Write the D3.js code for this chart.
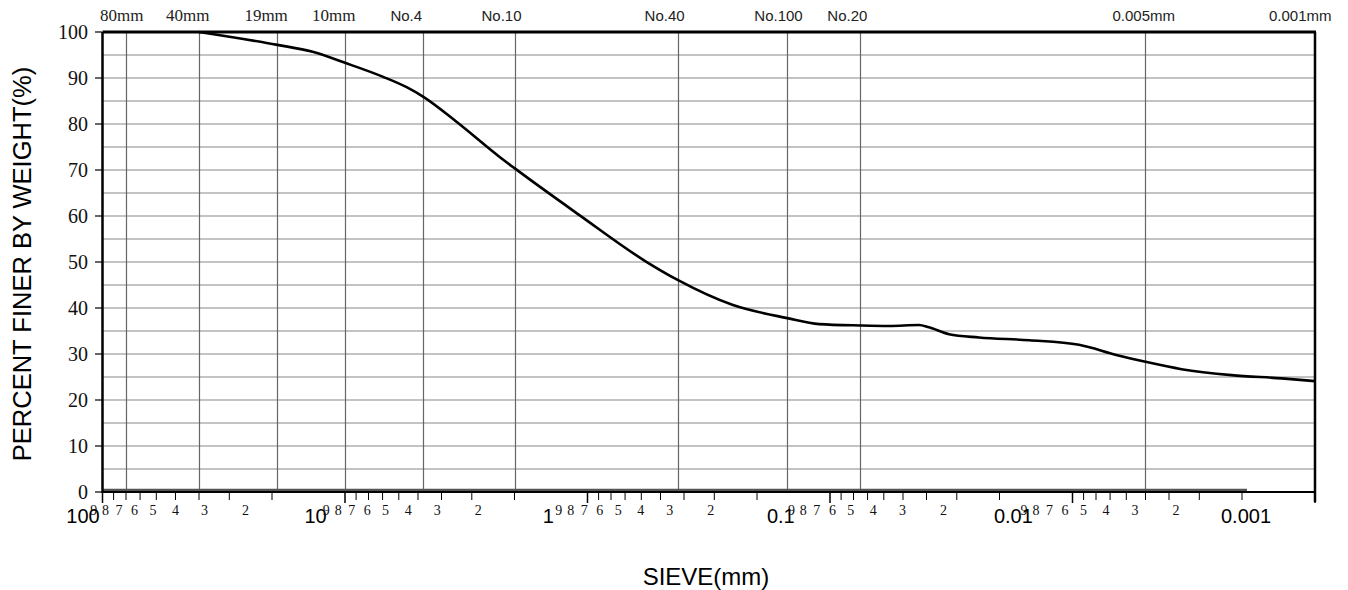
<!DOCTYPE html>
<html><head><meta charset="utf-8">
<script src="https://cdn.jsdelivr.net/npm/d3@7"></script>
<style>html,body{margin:0;padding:0;background:#fff;}svg{display:block;}</style>
</head><body>
<script>
// ---- data ----
const grainSizes = [40, 19, 13.6, 10, 7.0, 5.57, 4.75, 3.47, 2.31, 2.0, 1.08, 0.574, 0.425, 0.253, 0.15, 0.111, 0.075, 0.0571, 0.043, 0.0391, 0.0323, 0.0243, 0.0151, 0.0094, 0.0066, 0.005, 0.00355, 0.00221, 0.00137, 0.001];
const percentFiner = [100, 97.2, 95.7, 93.3, 90.3, 88.0, 85.9, 80.5, 72.9, 70.4, 60.2, 50.1, 46.1, 40.7, 37.8, 36.5, 36.2, 36.1, 36.3, 35.8, 34.3, 33.6, 33.0, 32.0, 29.8, 28.3, 26.7, 25.4, 24.7, 24.1];
const sieveSizes = [80, 40, 19, 10, 4.75, 2, 0.425, 0.15, 0.075, 0.005, 0.001];
const sieveLabels = ["80mm", "40mm", "19mm", "10mm", "No.4", "No.10", "No.40", "No.100", "No.20", "0.005mm", "0.001mm"];
const yTicks = [0, 10, 20, 30, 40, 50, 60, 70, 80, 90, 100];
const yGrid = [5, 10, 15, 20, 25, 30, 35, 40, 45, 50, 55, 60, 65, 70, 75, 80, 85, 90, 95];
const decadeValues = [100, 10, 1, 0.1, 0.01, 0.001];
const decadeLabels = ["100", "10", "1", "0.1", "0.01", "0.001"];
const minorDigits = [9, 8, 7, 6, 5, 4, 3, 2];

// ---- drawing ----
const W = 1333, H = 590;
const svg = d3.select("body").append("svg").attr("width", W).attr("height", H);
const x = d3.scaleLog().domain([100, 0.001]).range([102.5, 1315]);
const xl = d3.scaleLog().domain([100, 0.001]).range([83, 1246]);
const y = d3.scaleLinear().domain([0, 100]).range([492, 32]);

// horizontal grid
svg.append("g").selectAll("line").data(yGrid).join("line")
  .attr("x1", x(100)).attr("x2", x(0.001))
  .attr("y1", d => y(d)).attr("y2", d => y(d))
  .attr("stroke", "#888").attr("stroke-width", 1.2);
// vertical grid
svg.append("g").selectAll("line").data(sieveSizes.slice(0, -1)).join("line")
  .attr("x1", d => Math.round(x(d)) + 0.5).attr("x2", d => Math.round(x(d)) + 0.5)
  .attr("y1", y(100)).attr("y2", y(0))
  .attr("stroke", "#666").attr("stroke-width", 1.2);

// top labels
const nudge = {0: 7, 10: -13};
svg.append("g").selectAll("text").data(sieveLabels).join("text")
  .attr("x", (d, i) => x(sieveSizes[i]) - 33 + (nudge[i] || 0))
  .attr("y", 21)
  .attr("text-anchor", "start")
  .attr("font-family", (d, i) => i < 4 ? "Liberation Serif" : "Liberation Sans")
  .attr("font-size", (d, i) => i < 4 ? 17 : 15)
  .attr("fill", "#222")
  .text(d => d);

// y ticks + labels
svg.append("g").selectAll("line").data(yTicks).join("line")
  .attr("x1", 95).attr("x2", 102).attr("y1", d => y(d)).attr("y2", d => y(d))
  .attr("stroke", "#000").attr("stroke-width", 1.2);
svg.append("g").selectAll("text").data(yTicks).join("text")
  .attr("x", 88).attr("y", d => y(d) + 7)
  .attr("text-anchor", "end")
  .attr("font-family", "Liberation Serif").attr("font-size", 20).attr("fill", "#111")
  .text(d => d);

// bottom ticks
const minorVals = [];
decadeValues.slice(0, -1).forEach(dv => minorDigits.forEach(m => minorVals.push(dv / 10 * m)));
svg.append("g").selectAll("line").data(minorVals).join("line")
  .attr("x1", d => x(d)).attr("x2", d => x(d)).attr("y1", 492).attr("y2", 500)
  .attr("stroke", "#000").attr("stroke-width", 1);
svg.append("g").selectAll("line").data(decadeValues).join("line")
  .attr("x1", d => x(d)).attr("x2", d => x(d)).attr("y1", 492).attr("y2", 503)
  .attr("stroke", "#000").attr("stroke-width", 1.5);

// bottom labels (digits)
svg.append("g").selectAll("text").data(minorVals).join("text")
  .attr("x", d => xl(d)).attr("y", 515)
  .attr("text-anchor", "middle")
  .attr("font-family", "Liberation Serif").attr("font-size", 14).attr("fill", "#111")
  .text((d, i) => minorDigits[i % 8]);
svg.append("g").selectAll("text").data(decadeLabels).join("text")
  .attr("x", (d, i) => xl(decadeValues[i])).attr("y", 523)
  .attr("text-anchor", "middle")
  .attr("font-family", "Liberation Sans").attr("font-size", 20).attr("fill", "#000")
  .text(d => d);

// gray base line (label scale axis)
svg.append("line").attr("x1", x(100)).attr("x2", xl(0.001) + 1).attr("y1", 490).attr("y2", 490)
  .attr("stroke", "#555").attr("stroke-width", 2.5);

// frame
svg.append("line").attr("x1", x(100)).attr("x2", x(0.001)).attr("y1", y(0)).attr("y2", y(0)).attr("stroke", "#000").attr("stroke-width", 1.8);
svg.append("line").attr("x1", x(100)).attr("x2", x(0.001) + 1).attr("y1", y(100)).attr("y2", y(100)).attr("stroke", "#000").attr("stroke-width", 3);
svg.append("line").attr("x1", x(100)).attr("x2", x(100)).attr("y1", y(100)).attr("y2", y(0) + 1).attr("stroke", "#000").attr("stroke-width", 2.5);
svg.append("line").attr("x1", x(0.001)).attr("x2", x(0.001)).attr("y1", y(100)).attr("y2", y(0) + 10).attr("stroke", "#000").attr("stroke-width", 2.5);

// curve
const pts = grainSizes.map((d, i) => [d, percentFiner[i]]);
svg.append("path").datum(pts)
  .attr("fill", "none").attr("stroke", "#000").attr("stroke-width", 2.6)
  .attr("d", d3.line().x(d => x(d[0])).y(d => y(d[1])).curve(d3.curveMonotoneX));

// axis titles
svg.append("text").attr("transform", "translate(31,264) rotate(-90)")
  .attr("text-anchor", "middle").attr("font-family", "Liberation Sans").attr("font-size", 25.5).attr("fill", "#000")
  .text("PERCENT FINER BY WEIGHT(%)");
svg.append("text").attr("x", 706).attr("y", 585)
  .attr("text-anchor", "middle").attr("font-family", "Liberation Sans").attr("font-size", 24).attr("fill", "#000")
  .text("SIEVE(mm)");
</script>
</body></html>
